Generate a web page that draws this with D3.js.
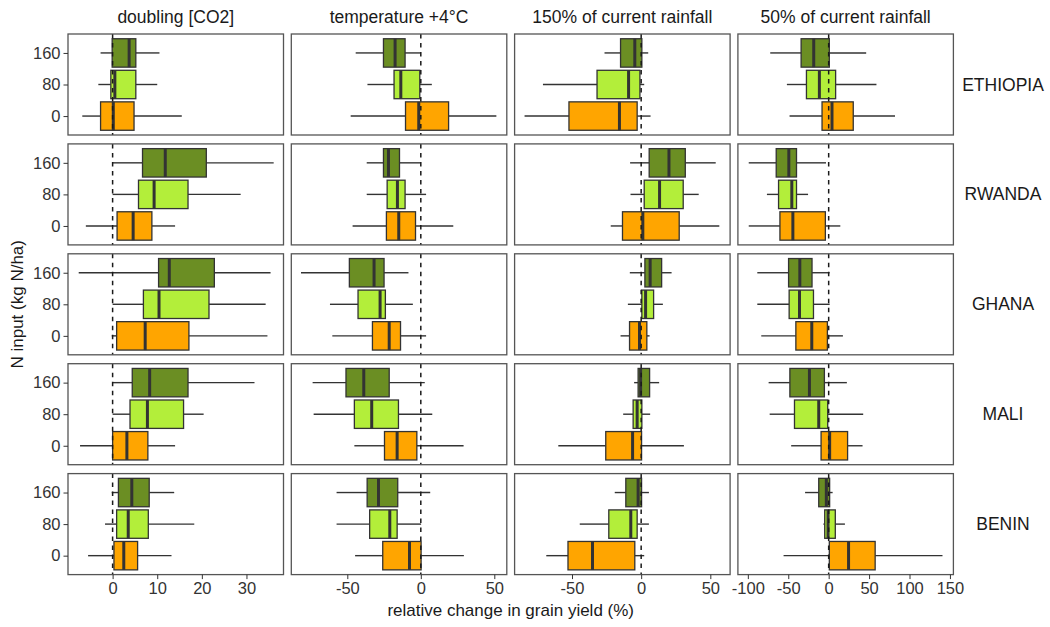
<!DOCTYPE html>
<html>
<head>
<meta charset="utf-8">
<script src="https://cdn.jsdelivr.net/npm/d3@7"></script>
<style>
  html, body { margin: 0; padding: 0; background: #fff; }
  svg text { font-family: "Liberation Sans", Arial, sans-serif; }
</style>
</head>
<body>
<svg id="chart" width="1050" height="627"></svg>
<script>
// ---------------- data ----------------
const scenarios = ["doubling [CO2]", "temperature +4°C", "150% of current rainfall", "50% of current rainfall"];
const countries = ["ETHIOPIA", "RWANDA", "GHANA", "MALI", "BENIN"];
const nLevels = ["160", "80", "0"];

// each entry: [country index][N level index] -> [lower whisker, q1, median, q3, upper whisker]
const co2Stats = [
  [[-2.7, -0.1, 3.7, 5.2, 10.5], [-3.2, -0.4, 0.5, 5.2, 10.0], [-6.8, -2.7, 0.15, 4.8, 15.5]],
  [[0.0, 6.7, 11.8, 21.0, 36.1], [0.0, 5.8, 9.3, 16.9, 28.7], [-6.0, 1.0, 4.6, 8.8, 14.0]],
  [[-7.6, 10.3, 12.7, 22.8, 35.4], [0.0, 6.9, 10.4, 21.6, 34.3], [-0.2, 0.9, 7.3, 17.1, 34.7]],
  [[0.0, 4.4, 8.3, 16.9, 31.8], [0.0, 3.9, 7.8, 15.9, 20.4], [-7.3, 0.0, 3.2, 7.9, 14.0]],
  [[-0.2, 1.3, 4.3, 8.2, 13.8], [-1.7, 0.9, 3.5, 8.0, 18.3], [-5.5, 0.3, 2.5, 5.6, 13.2]]
];
const tempStats = [
  [[-44.3, -25.4, -17.5, -10.7, 0.0], [-36.3, -18.2, -13.6, -0.7, 7.5], [-47.7, -10.4, -1.4, 18.9, 51.4]],
  [[-36.8, -25.4, -22.0, -14.5, 0.0], [-36.8, -22.9, -15.9, -10.7, 3.6], [-46.4, -23.4, -15.0, -3.6, 22.1]],
  [[-81.5, -48.6, -31.8, -25.0, -8.4], [-61.8, -42.7, -27.7, -24.1, -5.4], [-60.2, -32.9, -21.5, -13.8, 3.6]],
  [[-73.6, -50.9, -38.8, -21.5, 2.7], [-72.9, -45.2, -33.4, -15.2, 7.8], [-45.2, -24.7, -16.1, -2.7, 29.1]],
  [[-57.3, -36.5, -28.8, -15.7, 6.4], [-57.3, -34.8, -21.1, -16.1, 0.2], [-44.7, -25.9, -7.7, 0.2, 29.3]]
];
const rain150Stats = [
  [[-26.5, -14.9, -4.6, 0.5, 5.1], [-71.0, -31.9, -9.1, -0.9, 2.2], [-84.3, -52.2, -15.7, -2.9, 6.8]],
  [[-8.0, 5.8, 20.1, 31.9, 53.9], [-7.7, 2.2, 13.3, 30.4, 41.6], [-22.0, -13.5, 1.2, 27.5, 56.5]],
  [[-8.2, 2.7, 6.5, 14.8, 22.0], [-9.6, 0.5, 3.2, 9.0, 15.7], [-14.9, -8.4, -1.2, 4.1, 6.1]],
  [[-5.1, -2.2, -0.4, 6.1, 13.0], [-13.0, -5.8, -2.9, 0.5, 6.5], [-59.9, -25.6, -6.2, 0.3, 30.9]],
  [[-19.1, -11.1, -2.2, 0.3, 5.6], [-44.4, -23.4, -7.5, -2.9, 5.6], [-68.6, -52.9, -35.2, -4.6, 2.2]]
];
const rain50Stats = [
  [[-72.3, -34.1, -18.5, 0.8, 46.4], [-51.7, -27.5, -11.5, 8.6, 59.1], [-48.4, -8.2, 4.1, 30.4, 82.1]],
  [[-98.9, -64.9, -49.3, -39.8, -3.3], [-76.4, -62.0, -45.6, -39.8, -25.5], [-98.9, -60.3, -44.3, -4.1, 14.4]],
  [[-88.3, -49.6, -35.7, -20.6, 1.2], [-88.3, -48.9, -36.1, -18.8, 1.2], [-83.4, -40.6, -20.9, -1.6, 17.6]],
  [[-74.3, -48.0, -23.8, -5.3, 22.5], [-73.0, -42.3, -12.3, -1.2, 42.7], [-46.4, -9.4, 1.2, 23.4, 41.9]],
  [[-29.2, -12.3, -2.9, 1.2, 4.9], [-6.6, -4.9, -0.8, 8.2, 20.1], [-55.8, 0.8, 24.6, 57.5, 140.8]]
];
const scenarioStats = [co2Stats, tempStats, rain150Stats, rain50Stats];

const xDomains = [[-10, 38.3], [-88.1, 58.5], [-91.5, 64.3], [-112.3, 154.3]];
const xTicks = [[0, 10, 20, 30], [-50, 0, 50], [-50, 0, 50], [-100, -50, 0, 50, 100, 150]];
const nColors = ["#6B8E23", "#B3EE3A", "#FFA500"];

// ---------------- layout ----------------
const svg = d3.select("#chart");
const left0 = 68, pw = 215.5, gapX = 7.8;
const top0 = 34, ph = 101, gapY = 8.9;
const textCol = "#1a1a1a", tickCol = "#333";

const colX = d => left0 + d * (pw + gapX);
const rowY = r => top0 + r * (ph + gapY);

scenarios.forEach((sc, c) => {
  const x = d3.scaleLinear().domain(xDomains[c]).range([colX(c), colX(c) + pw]);

  // column strip title
  svg.append("text")
    .attr("x", colX(c) + pw / 2).attr("y", 23)
    .attr("text-anchor", "middle")
    .attr("font-size", 17.5).attr("fill", textCol)
    .text(sc);

  countries.forEach((ct, r) => {
    const y = d3.scalePoint().domain(nLevels).range([rowY(r), rowY(r) + ph]).padding(0.6);
    const bh = y.step() * 0.9;
    const g = svg.append("g");

    // panel background
    g.append("rect").attr("x", colX(c)).attr("y", rowY(r)).attr("width", pw).attr("height", ph)
      .attr("fill", "#fff");

    const stats = scenarioStats[c][r];
    nLevels.forEach((lv, k) => {
      const [lo, q1, md, q3, hi] = stats[k];
      const cy = y(lv);
      // whiskers
      g.append("line").attr("x1", x(lo)).attr("x2", x(q1)).attr("y1", cy).attr("y2", cy)
        .attr("stroke", "#333").attr("stroke-width", 1.4);
      g.append("line").attr("x1", x(q3)).attr("x2", x(hi)).attr("y1", cy).attr("y2", cy)
        .attr("stroke", "#333").attr("stroke-width", 1.4);
      // box
      g.append("rect").attr("x", x(q1)).attr("y", cy - bh / 2)
        .attr("width", Math.max(0.5, x(q3) - x(q1))).attr("height", bh)
        .attr("fill", nColors[k]).attr("stroke", "#333").attr("stroke-width", 1.3);
      // median
      g.append("line").attr("x1", x(md)).attr("x2", x(md)).attr("y1", cy - bh / 2).attr("y2", cy + bh / 2)
        .attr("stroke", "#333").attr("stroke-width", 3);
    });

    // dashed zero line
    g.append("line").attr("x1", x(0)).attr("x2", x(0)).attr("y1", rowY(r)).attr("y2", rowY(r) + ph)
      .attr("stroke", "#1a1a1a").attr("stroke-width", 1.5).attr("stroke-dasharray", "4.5,4.5");

    // panel border
    g.append("rect").attr("x", colX(c)).attr("y", rowY(r)).attr("width", pw).attr("height", ph)
      .attr("fill", "none").attr("stroke", "#555").attr("stroke-width", 1.3);

    // y axis on first column
    if (c === 0) {
      const ax = svg.append("g").attr("transform", `translate(${colX(0)},0)`)
        .call(d3.axisLeft(y).tickSize(4.5).tickPadding(3));
      ax.select(".domain").remove();
      ax.selectAll("line").attr("stroke", "#333");
      ax.selectAll("text").attr("font-size", 16.5).attr("fill", tickCol)
        .attr("font-family", "Liberation Sans, Arial, sans-serif");
    }
    // row strip label on last column
    if (c === scenarios.length - 1) {
      svg.append("text")
        .attr("x", 1003).attr("y", rowY(r) + ph / 2)
        .attr("text-anchor", "middle").attr("dominant-baseline", "central")
        .attr("font-size", 17.5).attr("fill", textCol)
        .text(ct);
    }
    // x axis on last row
    if (r === countries.length - 1) {
      const ax = svg.append("g").attr("transform", `translate(0,${rowY(r) + ph})`)
        .call(d3.axisBottom(x).tickValues(xTicks[c]).tickFormat(d3.format("d")).tickSize(4.5).tickPadding(3));
      ax.select(".domain").remove();
      ax.selectAll("line").attr("stroke", "#333");
      ax.selectAll("text").attr("font-size", 16.5).attr("fill", tickCol)
        .attr("font-family", "Liberation Sans, Arial, sans-serif")
        .text(d => d < 0 ? "-" + Math.abs(d) : String(d));
    }
  });
});

// axis titles
svg.append("text")
  .attr("x", colX(0) + (colX(3) + pw - colX(0)) / 2).attr("y", 616)
  .attr("text-anchor", "middle").attr("font-size", 17).attr("fill", textCol)
  .text("relative change in grain yield (%)");

svg.append("text")
  .attr("transform", `translate(23,${top0 + (rowY(4) + ph - top0) / 2}) rotate(-90)`)
  .attr("text-anchor", "middle").attr("font-size", 17).attr("fill", textCol)
  .text("N input (kg N/ha)");
</script>
</body>
</html>
